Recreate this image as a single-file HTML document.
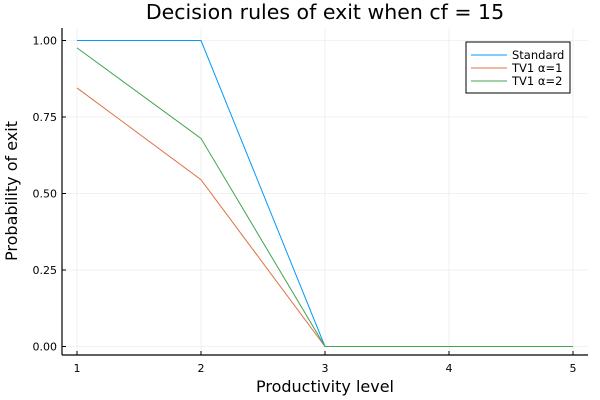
<!DOCTYPE html>
<html><head><meta charset="utf-8"><style>body{margin:0;background:#fff}svg{display:block;font-family:"DejaVu Sans","Liberation Sans",sans-serif}</style></head>
<body>
<svg id="chart" width="600" height="400" viewBox="0 0 600 400">
<rect width="600" height="400" fill="#fff"/>
<text x="325" y="19" font-size="20.5" text-anchor="middle" fill="#000">Decision rules of exit when cf = 15</text>
<g id="grid"></g>
<g id="series"></g>
<line x1="62" y1="28" x2="62" y2="355" stroke="#000" stroke-width="1.2"/>
<line x1="62" y1="355" x2="588" y2="355" stroke="#000" stroke-width="1.2"/>
<g id="ticks"></g>
<text x="325" y="392" font-size="16" text-anchor="middle">Productivity level</text>
<text transform="translate(17,191) rotate(-90)" font-size="16" text-anchor="middle">Probability of exit</text>
<g>
<rect x="466" y="42" width="104" height="51" fill="#fff" stroke="#000" stroke-width="1"/>
<g id="legend-entries"></g>
</g>
</svg>
<script>
const categories=[1,2,3,4,5];
const seriesNames=["Standard","TV1 α=1","TV1 α=2"];
const standard=[1,1,0,0,0];
const tv1a1=[0.845,0.545,0,0,0];
const tv1a2=[0.976,0.68,0,0,0];
const xTicks=[1,2,3,4,5];
const yTicks=[0,0.25,0.5,0.75,1];
const yTickLabels=["0.00","0.25","0.50","0.75","1.00"];
const colors=["#009af9","#e26f46","#3ea44e"];
const NS="http://www.w3.org/2000/svg";
const xs=v=>77+(v-1)*124;
const ys=v=>346.5-v*306;
function mk(t,a,p){const e=document.createElementNS(NS,t);for(const k in a)e.setAttribute(k,a[k]);p.appendChild(e);return e;}
const grid=document.getElementById('grid'),ticks=document.getElementById('ticks');
xTicks.forEach((t,i)=>{
 const g=mk('line',{x1:xs(t),x2:xs(t),y1:28,y2:355,stroke:'#000','stroke-opacity':0.1,'stroke-width':0.5},grid);
 
 
 const tk=mk('line',{x1:xs(t),x2:xs(t),y1:355,y2:351,stroke:'#000'},ticks);
 
 
 const l=mk('text',{x:xs(t),y:372,'font-size':11,'text-anchor':'middle'},ticks);l.textContent=String(t);
 
 
});
yTicks.forEach((t,i)=>{
 const g=mk('line',{x1:62,x2:588,y1:ys(t),y2:ys(t),stroke:'#000','stroke-opacity':0.1,'stroke-width':0.5},grid);
 
 
 const tk=mk('line',{x1:62,x2:66,y1:ys(t),y2:ys(t),stroke:'#000'},ticks);
 
 
 const l=mk('text',{x:57,y:ys(t)+4,'font-size':11,'text-anchor':'end'},ticks);l.textContent=yTickLabels[i];
 
 
});
const sg=document.getElementById('series');
[standard,tv1a1,tv1a2].forEach((d,i)=>{
 const p=mk('polyline',{points:d.map((v,j)=>xs(categories[j])+','+ys(v)).join(' '),fill:'none',stroke:colors[i],'stroke-width':1},sg);
 
 
});
const lg=document.getElementById('legend-entries');
seriesNames.forEach((n,i)=>{
 const y=55+i*13;
 const l=mk('line',{x1:471,x2:507,y1:y,y2:y,stroke:colors[i],'stroke-width':1},lg);
 
 
 const t=mk('text',{x:512,y:y+4,'font-size':11.5},lg);t.textContent=n;
 
 
});
</script>
</body></html>
